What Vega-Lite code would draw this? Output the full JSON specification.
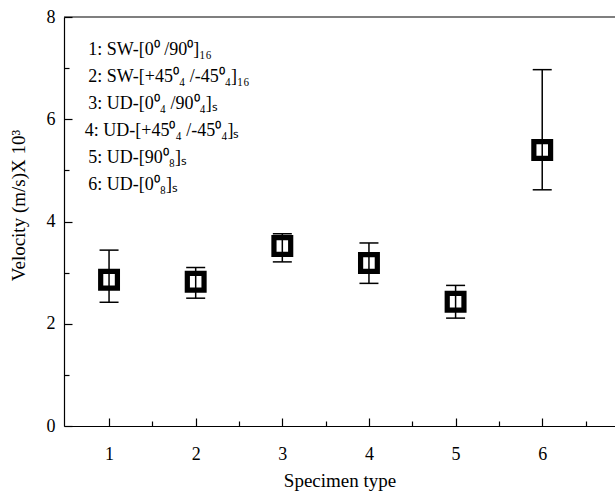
{
  "$schema": "https://vega.github.io/schema/vega-lite/v6.json",
  "width": 551,
  "height": 409,
  "autosize": {"type": "none"},
  "padding": {"left": 64, "top": 17, "right": 0, "bottom": 71},
  "background": "white",
  "config": {
    "view": {"stroke": null},
    "font": "Liberation Serif",
    "axis": {
      "domainColor": "black",
      "domainWidth": 1.2,
      "tickColor": "black",
      "tickWidth": 1.2,
      "grid": false,
      "labelFont": "Liberation Serif",
      "titleFont": "Liberation Serif",
      "labelFontSize": 18,
      "titleFontSize": 19,
      "labelColor": "black",
      "titleColor": "black",
      "titleFontWeight": "normal"
    }
  },
  "datasets": {
    "pts": [
      {"type": 1, "v": 2.86, "lo": 2.42, "hi": 3.44},
      {"type": 2, "v": 2.82, "lo": 2.50, "hi": 3.10},
      {"type": 3, "v": 3.52, "lo": 3.21, "hi": 3.76},
      {"type": 4, "v": 3.19, "lo": 2.79, "hi": 3.58},
      {"type": 5, "v": 2.43, "lo": 2.11, "hi": 2.75},
      {"type": 6, "v": 5.40, "lo": 4.62, "hi": 6.97}
    ],
    "legend": [
      {"x": 0.76, "y": 7.35, "label": "1: SW-[0⁰ /90⁰]₁₆"},
      {"x": 0.76, "y": 6.83, "label": "2: SW-[+45⁰₄ /-45⁰₄]₁₆"},
      {"x": 0.76, "y": 6.30, "label": "3: UD-[0⁰₄ /90⁰₄]ₛ"},
      {"x": 0.72, "y": 5.77, "label": "4: UD-[+45⁰₄ /-45⁰₄]ₛ"},
      {"x": 0.76, "y": 5.24, "label": "5: UD-[90⁰₈]ₛ"},
      {"x": 0.76, "y": 4.71, "label": "6: UD-[0⁰₈]ₛ"}
    ],
    "top": [{"y": 8}]
  },
  "layer": [
    {
      "data": {"name": "pts"},
      "mark": {"type": "point", "shape": "square", "filled": true, "fill": "white", "stroke": "black", "strokeWidth": 5.2, "size": 280, "opacity": 1},
      "encoding": {
        "x": {
          "field": "type", "type": "quantitative",
          "scale": {"domain": [0.48, 6.84], "nice": false, "zero": false},
          "axis": {
            "orient": "bottom",
            "title": "Specimen type",
            "titlePadding": 8,
            "values": [1, 1.5, 2, 2.5, 3, 3.5, 4, 4.5, 5, 5.5, 6, 6.5],
            "labelExpr": "datum.value % 1 == 0 ? format(datum.value, 'd') : ''",
            "tickSize": {"condition": {"test": "datum.value % 1 == 0", "value": -8}, "value": -5},
            "labelPadding": 27,
            "labelFlush": false
          }
        },
        "y": {
          "field": "v", "type": "quantitative",
          "scale": {"domain": [0, 8], "nice": false},
          "axis": {
            "title": "Velocity (m/s)X 10³",
            "titlePadding": 18,
            "titleY": 188,
            "values": [0, 1, 2, 3, 4, 5, 6, 7, 8],
            "labelExpr": "datum.value % 2 == 0 ? format(datum.value, 'd') : ''",
            "tickSize": {"condition": {"test": "datum.value % 2 == 0", "value": -8}, "value": -5},
            "labelPadding": 17
          }
        }
      }
    },
    {
      "data": {"name": "top"},
      "mark": {"type": "rule", "color": "black", "strokeWidth": 1.2},
      "encoding": {
        "y": {"field": "y", "type": "quantitative"}
      }
    },
    {
      "data": {"name": "pts"},
      "mark": {"type": "rule", "color": "black", "strokeWidth": 1.5},
      "encoding": {
        "x": {"field": "type", "type": "quantitative"},
        "y": {"field": "lo", "type": "quantitative"},
        "y2": {"field": "hi"}
      }
    },
    {
      "data": {"name": "pts"},
      "mark": {"type": "tick", "orient": "horizontal", "color": "black", "size": 19, "thickness": 1.5, "opacity": 1},
      "encoding": {
        "x": {"field": "type", "type": "quantitative"},
        "y": {"field": "lo", "type": "quantitative"}
      }
    },
    {
      "data": {"name": "pts"},
      "mark": {"type": "tick", "orient": "horizontal", "color": "black", "size": 19, "thickness": 1.5, "opacity": 1},
      "encoding": {
        "x": {"field": "type", "type": "quantitative"},
        "y": {"field": "hi", "type": "quantitative"}
      }
    },
    {
      "data": {"name": "legend"},
      "mark": {"type": "text", "align": "left", "baseline": "middle", "font": "Liberation Serif", "fontSize": 18, "color": "black"},
      "encoding": {
        "x": {"field": "x", "type": "quantitative"},
        "y": {"field": "y", "type": "quantitative"},
        "text": {"field": "label"}
      }
    }
  ]
}
